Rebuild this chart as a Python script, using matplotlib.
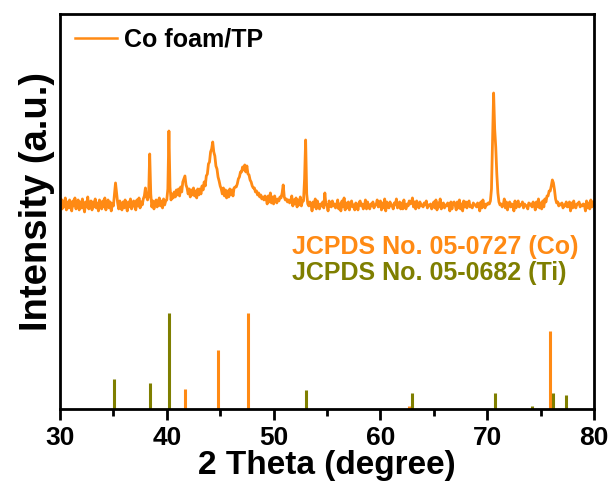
import numpy as np
import matplotlib
matplotlib.use('Agg')
from matplotlib import pyplot as plt
from matplotlib.ticker import MultipleLocator

# Co foam/TP XRD trace, 0.1 deg step from 30 to 80
two_theta = np.round(np.arange(30.0, 80.05, 0.1), 1)
intensity = [
    204, 210, 200, 208, 202, 211, 199, 207, 201, 209,  # 30
    202, 198, 208, 203, 211, 200, 206, 209, 199, 207,  # 31
    201, 210, 203, 197, 207, 202, 212, 200, 206, 208,  # 32
    199, 207, 202, 210, 201, 206, 198, 209, 203, 200,  # 33
    208, 202, 211, 199, 206, 209, 201, 207, 198, 205,  # 34
    203, 214, 226, 216, 206, 200, 208, 202, 199, 207,  # 35
    201, 209, 203, 198, 207, 202, 210, 200, 206, 208,  # 36
    202, 199, 209, 203, 211, 201, 207, 204, 210, 213,  # 37
    221, 212, 209, 213, 255, 215, 202, 208, 200, 206,  # 38
    209, 202, 207, 211, 203, 208, 201, 210, 204, 208,  # 39
    209, 220, 278, 222, 209, 215, 211, 217, 212, 219,  # 40
    214, 220, 213, 222, 217, 227, 230, 233, 224, 221,  # 41
    215, 220, 212, 219, 214, 221, 213, 218, 211, 220,  # 42
    214, 220, 215, 223, 219, 227, 223, 233, 235, 245,  # 43
    247, 257, 260, 267, 257, 253, 243, 240, 232, 228,  # 44
    223, 220, 215, 221, 213, 219, 211, 218, 212, 220,  # 45
    214, 219, 213, 221, 222, 222, 225, 230, 232, 237,  # 46
    237, 242, 239, 244, 237, 243, 235, 234, 229, 227,  # 47
    223, 221, 221, 217, 218, 214, 216, 212, 214, 210,  # 48
    212, 209, 213, 211, 205, 213, 207, 216, 206, 212,  # 49
    205, 213, 208, 206, 210, 208, 212, 211, 216, 224,  # 50
    212, 209, 210, 207, 209, 206, 208, 213, 203, 209,  # 51
    205, 211, 202, 209, 204, 212, 203, 208, 208, 230,  # 52
    269, 215, 205, 203, 207, 205, 198, 207, 202, 210,  # 53
    200, 208, 203, 200, 205, 203, 207, 201, 216, 204,  # 54
    204, 198, 208, 203, 202, 208, 203, 205, 201, 204,  # 55
    209, 200, 205, 198, 208, 202, 211, 199, 206, 201,  # 56
    207, 199, 205, 208, 202, 204, 199, 206, 204, 199,  # 57
    206, 208, 203, 205, 200, 203, 209, 200, 207, 202,  # 58
    200, 205, 203, 207, 201, 204, 204, 209, 202, 203,  # 59
    208, 199, 206, 201, 210, 198, 207, 202, 201, 207,  # 60
    203, 204, 200, 206, 204, 210, 201, 203, 207, 200,  # 61
    206, 200, 209, 202, 200, 205, 203, 208, 205, 206,  # 62
    211, 202, 207, 200, 208, 203, 201, 207, 203, 204,  # 63
    202, 206, 204, 208, 201, 204, 203, 205, 200, 203,  # 64
    207, 201, 209, 199, 206, 202, 210, 200, 205, 206,  # 65
    201, 204, 203, 206, 204, 198, 207, 200, 206, 207,  # 66
    204, 199, 207, 201, 209, 200, 205, 198, 208, 202,  # 67
    207, 201, 206, 208, 202, 203, 201, 206, 204, 204,  # 68
    202, 206, 204, 198, 207, 201, 209, 203, 201, 205,  # 69
    204, 206, 205, 208, 220, 270, 316, 280, 262, 235,  # 70
    216, 207, 204, 205, 202, 204, 210, 201, 207, 199,  # 71
    205, 207, 202, 205, 204, 198, 208, 201, 206, 208,  # 72
    202, 204, 204, 207, 201, 205, 203, 203, 200, 206,  # 73
    204, 205, 202, 207, 205, 199, 207, 202, 210, 201,  # 74
    206, 200, 208, 202, 210, 207, 213, 213, 218, 218,  # 75
    223, 229, 226, 219, 210, 206, 207, 203, 205, 204,  # 76
    206, 201, 204, 203, 207, 202, 203, 207, 198, 206,  # 77
    201, 208, 202, 201, 205, 205, 207, 202, 204, 203,  # 78
    205, 204, 198, 208, 201, 206, 200, 209, 202, 207,  # 79
    204,                                               # 80
]

# reference cards (relative intensity, %)
co_pos = [41.7, 44.8, 47.6, 62.7, 75.9]
co_int = [21, 61, 100, 3, 81]
ti_pos = [35.1, 38.4, 40.2, 53.0, 63.0, 70.7, 74.2, 76.2, 77.4]
ti_int = [31, 27, 100, 20, 17, 16, 3, 16, 14]

orange = '#FF8A14'
olive = '#7F7F00'

plt.rcParams['font.family'] = ['Liberation Sans', 'DejaVu Sans']
plt.rcParams['font.weight'] = 'bold'

fig = plt.figure(figsize=(6.12, 4.92), dpi=100)
ax = fig.add_axes([0.098, 0.169, 0.8726, 0.8025])

ax.plot(two_theta, intensity, color=orange, lw=2.0, label='Co foam/TP')
ax.vlines(co_pos, 0, np.array(co_int) * 0.96, color=orange, lw=2.2)
ax.vlines(ti_pos, 0, np.array(ti_int) * 0.96, color=olive, lw=2.2)

ax.text(0.434, 0.41, 'JCPDS No. 05-0727 (Co)', color=orange, fontsize=18,
        fontweight='bold', transform=ax.transAxes, va='center')
ax.text(0.434, 0.344, 'JCPDS No. 05-0682 (Ti)', color=olive, fontsize=18,
        fontweight='bold', transform=ax.transAxes, va='center')

leg = ax.legend(loc='upper left', bbox_to_anchor=(0.028, 0.965), frameon=False,
                borderpad=0, borderaxespad=0, handlelength=1.7,
                handletextpad=0.25, prop={'size': 18, 'weight': 'bold'})
for h in leg.get_lines():
    h.set_linewidth(1.8)

ax.set_xlim(30, 80)
ax.set_ylim(0, 395)
ax.xaxis.set_major_locator(MultipleLocator(10))
ax.xaxis.set_minor_locator(MultipleLocator(5))
ax.tick_params(axis='x', which='major', direction='out', length=8, width=2,
               labelsize=19, pad=4)
ax.tick_params(axis='x', which='minor', direction='out', length=5, width=2)
ax.set_yticks([])
for s in ax.spines.values():
    s.set_linewidth(2)

ax.set_xlabel('2 Theta (degree)', fontsize=24, fontweight='bold', labelpad=0)
ax.set_ylabel('Intensity (a.u.)', fontsize=27.5, fontweight='bold')
ax.yaxis.set_label_coords(-0.01, 0.525)

fig.savefig('out.png', dpi=100)
